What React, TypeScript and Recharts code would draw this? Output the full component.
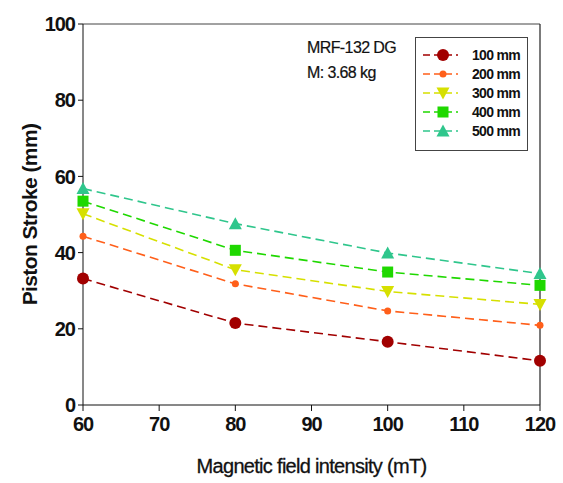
import { LineChart, Line, XAxis, YAxis, ReferenceLine, Label } from "recharts";

const fieldIntensity = [60, 80, 100, 120];
const stroke100 = [33.2, 21.5, 16.6, 11.6];
const stroke200 = [44.3, 31.8, 24.7, 20.9];
const stroke300 = [50.2, 35.5, 29.8, 26.4];
const stroke400 = [53.5, 40.6, 34.9, 31.4];
const stroke500 = [56.8, 47.6, 39.9, 34.5];
const xTicks = [60, 70, 80, 90, 100, 110, 120];
const yTicks = [0, 20, 40, 60, 80, 100];

const FONT = "'Liberation Sans', Arial, sans-serif";

const data = fieldIntensity.map((x, i) => ({
  x,
  s100: stroke100[i],
  s200: stroke200[i],
  s300: stroke300[i],
  s400: stroke400[i],
  s500: stroke500[i],
}));

type Marker = "bigCircle" | "smallCircle" | "triDown" | "square" | "triUp";

const SERIES: { key: string; name: string; color: string; marker: Marker }[] = [
  { key: "s100", name: "100 mm", color: "#a10000", marker: "bigCircle" },
  { key: "s200", name: "200 mm", color: "#ff5f1a", marker: "smallCircle" },
  { key: "s300", name: "300 mm", color: "#d6e000", marker: "triDown" },
  { key: "s400", name: "400 mm", color: "#1fd800", marker: "square" },
  { key: "s500", name: "500 mm", color: "#2fc68c", marker: "triUp" },
];

function drawMarker(marker: Marker, cx: number, cy: number, color: string, key?: string) {
  switch (marker) {
    case "bigCircle":
      return <circle key={key} cx={cx} cy={cy} r={6} fill={color} />;
    case "smallCircle":
      return <circle key={key} cx={cx} cy={cy} r={3.5} fill={color} />;
    case "triDown":
      return (
        <polygon key={key} points={`${cx - 6.5},${cy - 5.5} ${cx + 6.5},${cy - 5.5} ${cx},${cy + 6.5}`} fill={color} />
      );
    case "square":
      return <rect key={key} x={cx - 5.5} y={cy - 5.5} width={11} height={11} fill={color} />;
    case "triUp":
      return (
        <polygon key={key} points={`${cx - 6.5},${cy + 5.5} ${cx + 6.5},${cy + 5.5} ${cx},${cy - 6.5}`} fill={color} />
      );
  }
}

function LegendBox() {
  return (
    <svg width={113} height={114} style={{ display: "block" }}>
      <rect x={0.5} y={0.5} width={112} height={113} fill="#fff" stroke="#444" />
      {SERIES.map((s, i) => {
        const y = 18 + i * 19;
        return (
          <g key={s.key}>
            <line x1={8} x2={43} y1={y} y2={y} stroke={s.color} strokeWidth={1.5} strokeDasharray="7 4" />
            {drawMarker(s.marker, 28, y, s.color)}
            <text x={57} y={y + 5} fontFamily={FONT} fontSize={14} fontWeight="bold" fill="#111" letterSpacing={-0.7}>
              {s.name}
            </text>
          </g>
        );
      })}
    </svg>
  );
}

export default function App() {
  return (
    <div style={{ position: "relative", width: 563, height: 483, background: "#fff" }}>
      <style>{`body{margin:0}`}</style>
      <LineChart
        width={563}
        height={483}
        data={data}
        margin={{ top: 24, right: 23, bottom: 4, left: 8 }}
      >
        <XAxis
          dataKey="x"
          type="number"
          domain={[60, 120]}
          ticks={xTicks}
          interval={0}
          height={74}
          tickSize={6}
          stroke="#111"
          tick={{ fill: "#111", fontFamily: FONT, fontSize: 20, fontWeight: "bold", letterSpacing: -1 }}
          tickMargin={6}
        >
          <Label
            value="Magnetic field intensity (mT)"
            position="insideBottom"
            offset={6}
            style={{ fill: "#111", fontFamily: FONT, fontSize: 20, letterSpacing: -0.7, stroke: "#111", strokeWidth: 0.3 }}
          />
        </XAxis>
        <YAxis
          type="number"
          domain={[0, 100]}
          ticks={yTicks}
          interval={0}
          width={75}
          tickSize={5}
          stroke="#111"
          tick={{ fill: "#111", fontFamily: FONT, fontSize: 20, fontWeight: "bold", letterSpacing: -1 }}
          tickMargin={3}
        >
          <Label
            value="Piston Stroke (mm)"
            angle={-90}
            position="insideLeft"
            offset={22}
            style={{ fill: "#111", fontFamily: FONT, fontSize: 21, fontWeight: "bold", letterSpacing: -0.6, textAnchor: "middle" }}
          />
        </YAxis>
        <ReferenceLine y={100} stroke="#444" strokeWidth={1} />
        <ReferenceLine x={120} stroke="#222" strokeWidth={1.2} />
        {SERIES.map((s) => (
          <Line
            key={s.key}
            type="linear"
            dataKey={s.key}
            name={s.name}
            stroke={s.color}
            strokeWidth={1.6}
            strokeDasharray="9 5"
            isAnimationActive={false}
            dot={(p: any) => drawMarker(s.marker, p.cx, p.cy, s.color, `${s.key}-${p.index}`)}
            activeDot={false}
          />
        ))}
      </LineChart>
      <div style={{ position: "absolute", left: 415, top: 37 }}>
        <LegendBox />
      </div>
      <div
        style={{
          position: "absolute",
          left: 307,
          top: 35,
          fontFamily: FONT,
          fontSize: 16,
          lineHeight: "25px",
          color: "#111",
          letterSpacing: -0.6,
          WebkitTextStroke: "0.2px #111",
        }}
      >
        <div>MRF-132 DG</div>
        <div>M: 3.68 kg</div>
      </div>
    </div>
  );
}
